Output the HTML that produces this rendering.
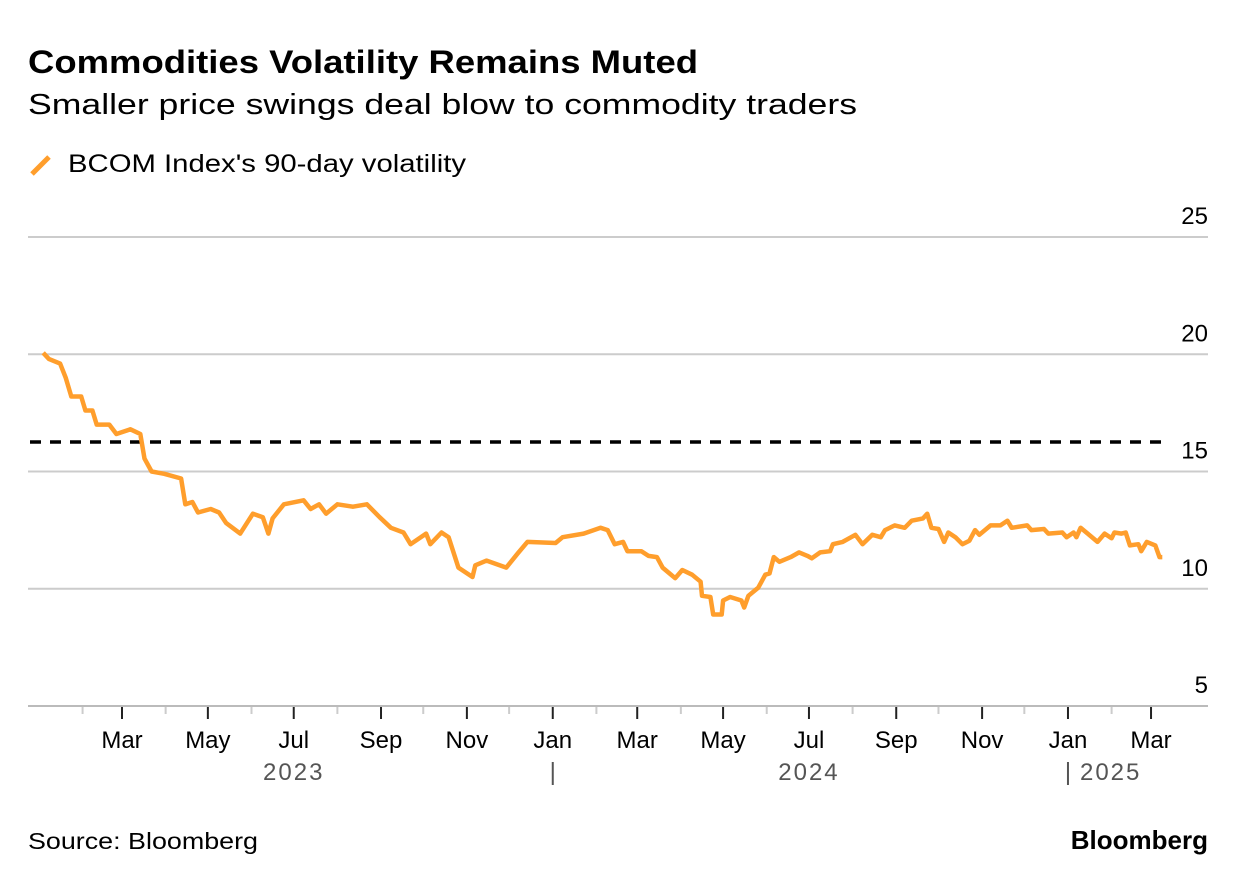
<!DOCTYPE html>
<html><head><meta charset="utf-8"><style>
body{margin:0;background:#fff;width:1237px;height:882px;overflow:hidden;font-family:"Liberation Sans",sans-serif}
</style></head><body>
<svg width="1237" height="882" style="position:absolute;left:0;top:0">
<text x="28" y="73" font-size="32" font-weight="bold" fill="#000" textLength="670" lengthAdjust="spacingAndGlyphs">Commodities Volatility Remains Muted</text>
<text x="28" y="114" font-size="29" fill="#000" textLength="829" lengthAdjust="spacingAndGlyphs">Smaller price swings deal blow to commodity traders</text>
<g>
<line x1="32" y1="174" x2="49" y2="157" stroke="#ff9e2c" stroke-width="5"/>
<text x="68" y="172" font-size="25" fill="#000" textLength="398" lengthAdjust="spacingAndGlyphs">BCOM Index's 90-day volatility</text>
</g>
<g id="grid"></g><g id="axis"></g><g id="plot"></g>
<text x="28" y="849" font-size="23" fill="#000" textLength="230" lengthAdjust="spacingAndGlyphs">Source: Bloomberg</text>
<text x="1208" y="849" font-size="26" font-weight="bold" text-anchor="end" fill="#000">Bloomberg</text>
</svg>
<script>
// days since 2023-01-01
const days=[3,7,15,19,23,30,33,38,41,50,55,65,72,75,80,89,101,104,109,113,122,128,133,143,152,159,163,166,174,188,193,199,204,212,223,233,242,250,259,264,275,278,286,291,298,308,310,318,332,340,347,367,372,387,399,404,409,415,418,428,433,439,443,448,452,457,464,470,471,477,479,485,486,491,499,501,504,511,516,519,522,526,534,540,546,549,555,562,564,571,580,585,592,598,601,608,615,620,628,631,634,639,643,646,651,656,661,665,668,676,683,688,691,702,705,714,717,727,730,735,737,740,745,752,757,762,764,769,772,775,781,783,787,793,796,798];
const values=[20.06,19.8,19.6,19.0,18.2,18.2,17.6,17.6,17.0,17.0,16.6,16.8,16.6,15.55,15.0,14.9,14.7,13.6,13.7,13.25,13.4,13.25,12.8,12.35,13.2,13.05,12.35,13.0,13.6,13.77,13.4,13.6,13.2,13.6,13.5,13.6,13.05,12.6,12.4,11.9,12.35,11.9,12.4,12.2,10.9,10.5,11.0,11.2,10.9,11.5,12.0,11.95,12.2,12.35,12.6,12.5,11.9,12.0,11.6,11.6,11.4,11.35,10.9,10.65,10.45,10.8,10.6,10.3,9.7,9.65,8.9,8.9,9.5,9.65,9.5,9.2,9.7,10.05,10.6,10.65,11.35,11.15,11.35,11.55,11.4,11.3,11.55,11.6,11.9,12.0,12.3,11.9,12.3,12.2,12.5,12.7,12.6,12.9,13.0,13.2,12.6,12.55,12.0,12.4,12.2,11.9,12.05,12.5,12.3,12.7,12.7,12.9,12.6,12.7,12.5,12.55,12.35,12.4,12.2,12.4,12.2,12.6,12.35,12.0,12.35,12.15,12.4,12.35,12.4,11.85,11.9,11.6,12.0,11.85,11.35,11.35];
const yTicks=[5,10,15,20,25];
const benchmark=[16.26];
const monthLabels=["Mar","May","Jul","Sep","Nov","Jan","Mar","May","Jul","Sep","Nov","Jan","Mar"];
const yearLabels=["2023","2024","2025"];
const NS="http://www.w3.org/2000/svg";
const X0=28,X1=1208;
function xS(d){return 122+(d-59)*1.4077;}
function yS(v){return 706-(v-5)*23.45;}
function dayOf(y,m){return (Date.UTC(y,m,1)-Date.UTC(2023,0,1))/864e5;}
function mk(tag,attrs,parent){const e=document.createElementNS(NS,tag);for(const k in attrs)e.setAttribute(k,attrs[k]);parent.appendChild(e);return e;}
const grid=document.getElementById('grid'),axis=document.getElementById('axis'),plot=document.getElementById('plot');
yTicks.forEach(v=>{
  if(v>5){const l=mk('line',{x1:X0,x2:X1,y1:yS(v),y2:yS(v),stroke:'#cccccc','stroke-width':2},grid);
  
  }
  const t=mk('text',{x:1208,y:yS(v)-13,'font-size':24,'text-anchor':'end',fill:'#000'},grid);
  t.textContent=v;
  
  
});
const base=mk('line',{x1:X0,x2:X1,y1:706,y2:706,stroke:'#bbbbbb','stroke-width':2},axis);


let mi=0;
for(let i=0;i<26;i++){
  const y=2023+Math.floor((i+1)/12), m=(i+1)%12;
  const d=dayOf(y,m), x=xS(d);
  const major=(m%2===0);
  const tk=mk('line',{x1:x,x2:x,y1:707,y2:major?719:714,stroke:major?'#222':'#ccc','stroke-width':2},axis);
  
  
  if(major&&mi<monthLabels.length){
    const t=mk('text',{x:x,y:748,'font-size':24,'text-anchor':'middle',fill:'#000'},axis);
    t.textContent=monthLabels[mi++];
    
    
  }
}
[[yearLabels[0],xS(dayOf(2023,6)),'middle'],[yearLabels[1],xS(dayOf(2024,6)),'middle'],[yearLabels[2],xS(dayOf(2025,0))+12,'start']].forEach(a=>{
  const t=mk('text',{x:a[1],y:780,'font-size':24,'text-anchor':a[2],fill:'#555','letter-spacing':'2'},axis);
  t.textContent=a[0];
  
  
});
[dayOf(2024,0),dayOf(2025,0)].forEach(d=>{
  const l=mk('line',{x1:xS(d),x2:xS(d),y1:762,y2:785,stroke:'#555','stroke-width':2},axis);
  
  
});
const bl=mk('line',{x1:30,x2:1162,y1:yS(benchmark[0]),y2:yS(benchmark[0]),stroke:'#000','stroke-width':3.5,'stroke-dasharray':'11 9'},plot);


const p=mk('path',{d:days.map((d,i)=>(i?'L':'M')+xS(d).toFixed(1)+','+yS(values[i]).toFixed(1)).join(''),fill:'none',stroke:'#ff9e2c','stroke-width':4.5,'stroke-linejoin':'round'},plot);


</script>
</body></html>
